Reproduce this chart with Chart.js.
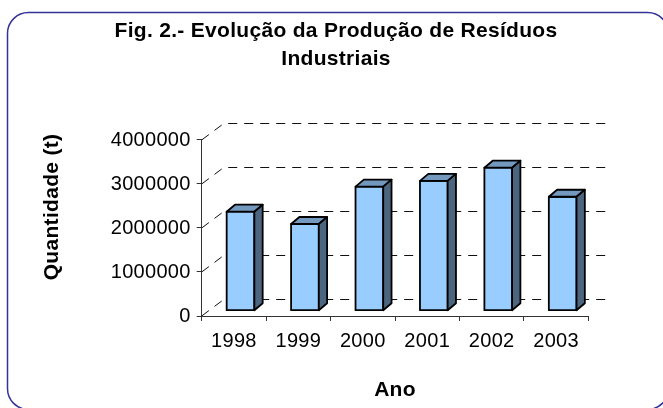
<!DOCTYPE html>
<html>
<head>
<meta charset="utf-8">
<script src="https://cdn.jsdelivr.net/npm/chart.js@4/dist/chart.umd.min.js"></script>
<style>
  html, body { margin: 0; padding: 0; background: #fff; }
  canvas { display: block; }
</style>
</head>
<body>
<canvas id="c" width="663" height="408"></canvas>
<script>
// ---- data ----
const categories = ['1998', '1999', '2000', '2001', '2002', '2003'];
const values = [2250000, 1970000, 2820000, 2950000, 3250000, 2590000];
const yTickValues = [0, 1000000, 2000000, 3000000, 4000000];
const titleLines = ['Fig. 2.- Evolução da Produção de Resíduos', 'Industriais'];
const xTitle = 'Ano';
const yTitle = 'Quantidade (t)';

// ---- style ----
const FONT = '"Liberation Sans", Arial, sans-serif';
const WALL_DX = 22, WALL_DY = 17;      // depth of the back wall
const BAR_OFF_X = 6.6, BAR_OFF_Y = 5.3; // bar front plane offset
const BAR_DX = 8.3, BAR_DY = 7;         // bar depth
const FRONT = '#99CCFF', TOP = '#7399BF', SIDE = '#4D6680';
const BAR_LW = 1.8;

const threeD = {
  id: 'threeD',
  beforeDraw(chart) {
    const ctx = chart.ctx;
    ctx.letterSpacing = '0.3px';
    ctx.save();
    ctx.fillStyle = '#fff';
    ctx.fillRect(0, 0, chart.width, chart.height);
    ctx.beginPath();
    ctx.roundRect(7.5, 12.5, 661, 397, 21);
    ctx.strokeStyle = '#333399';
    ctx.lineWidth = 1.5;
    ctx.stroke();
    ctx.restore();
  },
  beforeDatasetsDraw(chart) {
    const { ctx, chartArea: a, scales: { y } } = chart;
    ctx.save();
    ctx.strokeStyle = '#111';
    ctx.lineWidth = 1;
    ctx.setLineDash([9, 7]);
    y.ticks.forEach(t => {
      const py0 = y.getPixelForValue(t.value);
      const py = Math.round(py0 - WALL_DY) + 0.5;
      ctx.beginPath();
      ctx.moveTo(a.left, py0);
      ctx.lineTo(a.left + WALL_DX, py);
      ctx.lineTo(a.right + WALL_DX, py);
      ctx.stroke();
    });
    ctx.restore();
    ctx.save();
    ctx.translate(BAR_OFF_X, -BAR_OFF_Y);
  },
  afterDatasetsDraw(chart) {
    const ctx = chart.ctx;
    const meta = chart.getDatasetMeta(0);
    ctx.lineWidth = BAR_LW;
    ctx.strokeStyle = '#000';
    ctx.lineJoin = 'round';
    meta.data.forEach(bar => {
      const { x, y: top, base, width } = bar.getProps(['x', 'y', 'base', 'width'], true);
      const L = x - width / 2, R = x + width / 2;
      ctx.beginPath();
      ctx.rect(L, top, R - L, base - top);
      ctx.stroke();
      ctx.beginPath();
      ctx.moveTo(L, top);
      ctx.lineTo(L + BAR_DX, top - BAR_DY);
      ctx.lineTo(R + BAR_DX, top - BAR_DY);
      ctx.lineTo(R, top);
      ctx.closePath();
      ctx.fillStyle = TOP;
      ctx.fill();
      ctx.stroke();
      ctx.beginPath();
      ctx.moveTo(R, top);
      ctx.lineTo(R + BAR_DX, top - BAR_DY);
      ctx.lineTo(R + BAR_DX, base - BAR_DY);
      ctx.lineTo(R, base);
      ctx.closePath();
      ctx.fillStyle = SIDE;
      ctx.fill();
      ctx.stroke();
    });
    ctx.restore();
  },
  afterDraw(chart) {
    const ctx = chart.ctx;
    ctx.save();
    ctx.translate(52, 207);
    ctx.rotate(-Math.PI / 2);
    ctx.font = 'bold 21px ' + FONT;
    ctx.textAlign = 'center';
    ctx.textBaseline = 'middle';
    ctx.fillStyle = '#000';
    ctx.fillText(yTitle, 0, 0);
    ctx.restore();
  }
};

new Chart(document.getElementById('c'), {
  type: 'bar',
  data: {
    labels: categories,
    datasets: [{
      data: values,
      backgroundColor: FRONT,
      borderWidth: 0,
      barPercentage: 0.43,
      categoryPercentage: 1.0,
      clip: false
    }]
  },
  options: {
    responsive: false,
    animation: false,
    devicePixelRatio: 1,
    layout: { padding: { left: 9, right: 0, top: 0, bottom: 0 } },
    plugins: {
      legend: { display: false },
      tooltip: { enabled: false },
      title: {
        display: true,
        text: titleLines,
        color: '#000',
        font: { family: FONT, size: 21, weight: 'bold', lineHeight: 1.333 },
        padding: { top: 17, bottom: 67 }
      }
    },
    scales: {
      x: {
        grid: { display: true, drawOnChartArea: false, drawTicks: true, tickLength: 5, color: '#333', offset: true },
        border: { display: true, color: '#333', width: 1 },
        ticks: { color: '#000', font: { family: FONT, size: 20 }, padding: 8, maxRotation: 0 },
        title: { display: true, text: xTitle, color: '#000', font: { family: FONT, size: 21, weight: 'bold', lineHeight: 1.2 }, padding: { top: 0, bottom: 5 } },
        afterFit(s) { s.height = 92; }
      },
      y: {
        min: 0,
        max: 4000000,
        afterBuildTicks(s) { s.ticks = yTickValues.map(v => ({ value: v })); },
        grid: { display: true, drawOnChartArea: false, drawTicks: true, tickLength: 5, color: '#333' },
        border: { display: true, color: '#333', width: 1 },
        ticks: { color: '#000', font: { family: FONT, size: 20 }, padding: 6, callback: v => String(v) },
        afterFit(s) { s.width = 192.7; }
      },
      yR: {
        position: 'right',
        display: true,
        grid: { display: false, drawTicks: false },
        border: { display: false },
        ticks: { display: false },
        afterFit(s) { s.width = 74.7; }
      }
    }
  },
  plugins: [threeD]
});
</script>
</body>
</html>
